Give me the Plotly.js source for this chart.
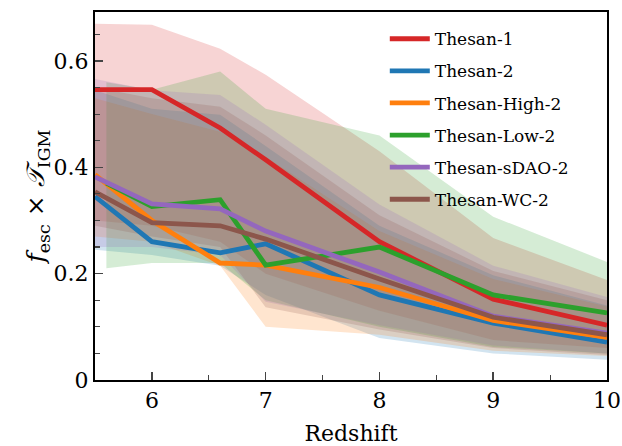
<!DOCTYPE html>
<html>
<head>
<meta charset="utf-8">
<script src="https://cdn.plot.ly/plotly-3.0.1.min.js"></script>
<style>html,body{margin:0;padding:0;background:#fff;}#chart{width:622px;height:446px;}</style>
</head>
<body>
<div id="chart"></div>
<script>
// Redshift snapshots
const zAll = [5.5, 6, 6.6, 7, 8, 9, 10];
const zLow = [5.6, 6, 6.6, 7, 8, 9, 10];

const names = ["Thesan-1", "Thesan-2", "Thesan-High-2", "Thesan-Low-2", "Thesan-sDAO-2", "Thesan-WC-2"];
const colors = ["#d62728", "#1f77b4", "#ff7f0e", "#2ca02c", "#9467bd", "#8c564b"];

// median values
const thesan1 =     [0.546, 0.546, 0.474, 0.414, 0.260, 0.152, 0.103];
const thesan2 =     [0.345, 0.260, 0.239, 0.256, 0.160, 0.107, 0.071];
const thesanHigh2 = [0.386, 0.300, 0.220, 0.216, 0.174, 0.112, 0.080];
const thesanLow2 =  [0.370, 0.326, 0.339, 0.216, 0.250, 0.160, 0.126];
const thesanSDAO2 = [0.382, 0.331, 0.322, 0.280, 0.203, 0.120, 0.088];
const thesanWC2 =   [0.354, 0.296, 0.290, 0.265, 0.190, 0.118, 0.085];

// upper bounds of shaded range
const up1 =    [0.670, 0.668, 0.623, 0.574, 0.430, 0.267, 0.188];
const up2 =    [0.545, 0.510, 0.499, 0.440, 0.290, 0.197, 0.140];
const upHigh = [0.530, 0.500, 0.467, 0.420, 0.280, 0.190, 0.138];
const upLow =  [0.560, 0.546, 0.580, 0.510, 0.460, 0.307, 0.222];
const upSDAO = [0.566, 0.545, 0.536, 0.480, 0.330, 0.215, 0.156];
const upWC =   [0.550, 0.530, 0.514, 0.460, 0.310, 0.205, 0.150];

// lower bounds of shaded range
const lo1 =    [0.300, 0.290, 0.260, 0.200, 0.130, 0.075, 0.060];
const lo2 =    [0.245, 0.235, 0.215, 0.160, 0.079, 0.050, 0.038];
const loHigh = [0.270, 0.260, 0.215, 0.100, 0.085, 0.055, 0.045];
const loLow =  [0.210, 0.220, 0.220, 0.150, 0.100, 0.062, 0.050];
const loSDAO = [0.250, 0.250, 0.235, 0.147, 0.103, 0.065, 0.050];
const loWC =   [0.290, 0.270, 0.250, 0.137, 0.095, 0.060, 0.047];

const series = [
  {x: zAll, y: thesan1, up: up1, lo: lo1},
  {x: zAll, y: thesan2, up: up2, lo: lo2},
  {x: zAll, y: thesanHigh2, up: upHigh, lo: loHigh},
  {x: zLow, y: thesanLow2, up: upLow, lo: loLow},
  {x: zAll, y: thesanSDAO2, up: upSDAO, lo: loSDAO},
  {x: zAll, y: thesanWC2, up: upWC, lo: loWC}
];

function rgba(hex, a) {
  const r = parseInt(hex.slice(1,3),16), g = parseInt(hex.slice(3,5),16), b = parseInt(hex.slice(5,7),16);
  return `rgba(${r},${g},${b},${a})`;
}

const traces = [];
series.forEach((s, i) => {
  traces.push({
    x: s.x.concat(s.x.slice().reverse()),
    y: s.up.concat(s.lo.slice().reverse()),
    type: 'scatter', mode: 'lines', fill: 'toself',
    fillcolor: rgba(colors[i], 0.2), line: {width: 0, color: 'rgba(0,0,0,0)'},
    hoverinfo: 'skip', showlegend: false
  });
});
series.forEach((s, i) => {
  traces.push({
    x: s.x, y: s.y, name: names[i], legendgroup: 'g' + i,
    type: 'scatter', mode: 'lines',
    line: {color: colors[i], width: 4.8}
  });
});

const serif = "DejaVu Serif";
const layout = {
  width: 622, height: 446,
  margin: {l: 95, r: 15, t: 12, b: 66},
  paper_bgcolor: '#fff', plot_bgcolor: '#fff',
  font: {family: serif, color: '#000', size: 22},
  showlegend: true,
  legend: {
    x: 0.566, y: 0.975, xanchor: 'left', yanchor: 'top',
    bgcolor: 'rgba(0,0,0,0)', font: {family: serif, size: 17, color: '#000'},
    tracegroupgap: 7, itemwidth: 40
  },
  xaxis: {
    range: [5.5, 10], tickvals: [6, 7, 8, 9, 10], ticks: 'inside', ticklen: 8, tickwidth: 1.5,
    showline: true, linewidth: 2, linecolor: '#000', mirror: true, showgrid: false, zeroline: false,
    minor: {dtick: 0.5, tick0: 5.5, ticks: 'inside', ticklen: 5, tickwidth: 1.2, showgrid: false},
    tickfont: {size: 22, family: serif, color: '#000'},
    title: {text: 'Redshift', font: {size: 22, family: serif, color: '#000'}, standoff: 14}
  },
  yaxis: {
    range: [0, 0.692], tickvals: [0, 0.2, 0.4, 0.6], ticktext: ['0', '0.2', '0.4', '0.6'],
    ticks: 'inside', ticklen: 8, tickwidth: 1.5,
    showline: true, linewidth: 2, linecolor: '#000', mirror: true, showgrid: false, zeroline: false,
    minor: {dtick: 0.05, tick0: 0, ticks: 'inside', ticklen: 5, tickwidth: 1.2, showgrid: false},
    tickfont: {size: 22, family: serif, color: '#000'},
    title: {text: '<i>f</i><sub>esc</sub> × <i>𝒯</i><sub>IGM</sub>', font: {size: 25, family: serif, color: '#000'}, standoff: 0}
  }
};

Plotly.newPlot('chart', traces, layout, {displayModeBar: false, staticPlot: true});
</script>
</body>
</html>
